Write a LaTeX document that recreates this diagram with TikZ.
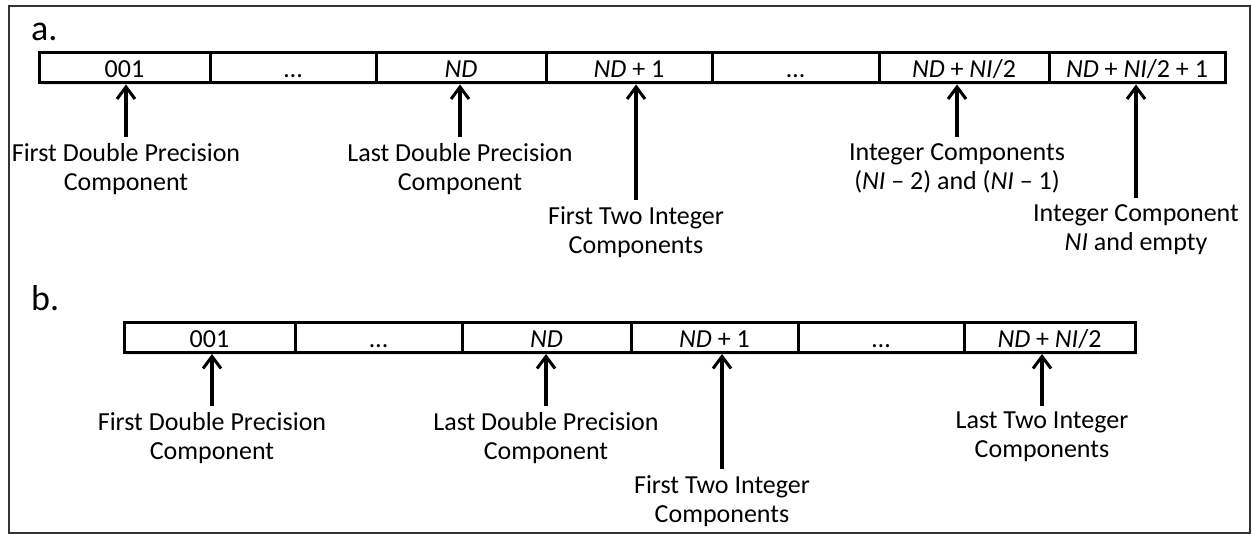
\documentclass[tikz,border=0pt]{standalone}
\usepackage{fontspec}
\setmainfont{Carlito}
\usetikzlibrary{arrows.meta,shadows}
\begin{document}
\begin{tikzpicture}[x=1pt,y=-1pt,
  cell/.style={draw=black,fill=white,line width=3pt,rectangle,inner sep=0pt,
    minimum height=30pt,text height=19pt,text depth=0pt,
    drop shadow={shadow xshift=2pt,shadow yshift=-2pt,opacity=0.2},
    font=\fontsize{26}{29}\selectfont},
  lbl/.style={align=center,inner sep=0pt,font=\fontsize{26}{29}\selectfont},
  tag/.style={anchor=base west,inner sep=0pt,font=\fontsize{36}{40}\selectfont},
  arr/.style={line width=3.5pt,-{Straight Barb[length=12pt,width=18pt,line width=3pt]}},
  frame/.style={draw=black!80,line width=1.5pt}]
\useasboundingbox (0,0) rectangle (1252,534);
\draw[frame] (9,6) rectangle (1250,533);
% panel a
\node[tag] (ta) at (31,41) {a.};
\node[cell,minimum width=171pt] (a1) at (124.5,68) {001};
\node[cell,minimum width=166pt] (a2) at (293,68) {…};
\node[cell,minimum width=170pt] (a3) at (461,68) {\textit{ND}};
\node[cell,minimum width=166pt] (a4) at (629,68) {\textit{ND} + 1};
\node[cell,minimum width=167pt] (a5) at (795.5,68) {…};
\node[cell,minimum width=170pt] (a6) at (964,68) {\textit{ND} + \textit{NI}/2};
\node[cell,minimum width=176pt] (a7) at (1137,68) {\textit{ND} + \textit{NI}/2 + 1};
\node[lbl,anchor=north] (la1) at (126,143) {First Double Precision\\Component};
\node[lbl,anchor=north] (la3) at (460,143) {Last Double Precision\\Component};
\node[lbl,anchor=north] (la4) at (636,206) {First Two Integer\\Components};
\node[lbl,anchor=north] (la6) at (957,143) {Integer Components\\(\textit{NI} – 2) and (\textit{NI} – 1)};
\node[lbl,anchor=north] (la7) at (1136,204) {Integer Component\\\textit{NI} and empty};
\draw[arr] ([yshift=6pt]la1.north) -- (la1.north |- a1.south);
\draw[arr] ([yshift=6pt]la3.north) -- (la3.north |- a3.south);
\draw[arr] ([yshift=6pt]la4.north) -- (la4.north |- a4.south);
\draw[arr] ([yshift=6pt]la6.north) -- (la6.north |- a6.south);
\draw[arr] ([yshift=6pt]la7.north) -- (la7.north |- a7.south);
% panel b
\node[tag] (tb) at (31,311) {b.};
\node[cell,minimum width=171pt] (b1) at (209.5,337.5) {001};
\node[cell,minimum width=167pt] (b2) at (378.5,337.5) {…};
\node[cell,minimum width=169pt] (b3) at (546.5,337.5) {\textit{ND}};
\node[cell,minimum width=167pt] (b4) at (714.5,337.5) {\textit{ND} + 1};
\node[cell,minimum width=166pt] (b5) at (881,337.5) {…};
\node[cell,minimum width=171pt] (b6) at (1049.5,337.5) {\textit{ND} + \textit{NI}/2};
\node[lbl,anchor=north] (lb1) at (212,412) {First Double Precision\\Component};
\node[lbl,anchor=north] (lb3) at (546,412) {Last Double Precision\\Component};
\node[lbl,anchor=north] (lb4) at (722,475) {First Two Integer\\Components};
\node[lbl,anchor=north] (lb6) at (1042,412) {Last Two Integer\\Components};
\draw[arr] ([yshift=6pt]lb1.north) -- (lb1.north |- b1.south);
\draw[arr] ([yshift=6pt]lb3.north) -- (lb3.north |- b3.south);
\draw[arr] ([yshift=6pt]lb4.north) -- (lb4.north |- b4.south);
\draw[arr] ([yshift=6pt]lb6.north) -- (lb6.north |- b6.south);
\end{tikzpicture}
\end{document}
